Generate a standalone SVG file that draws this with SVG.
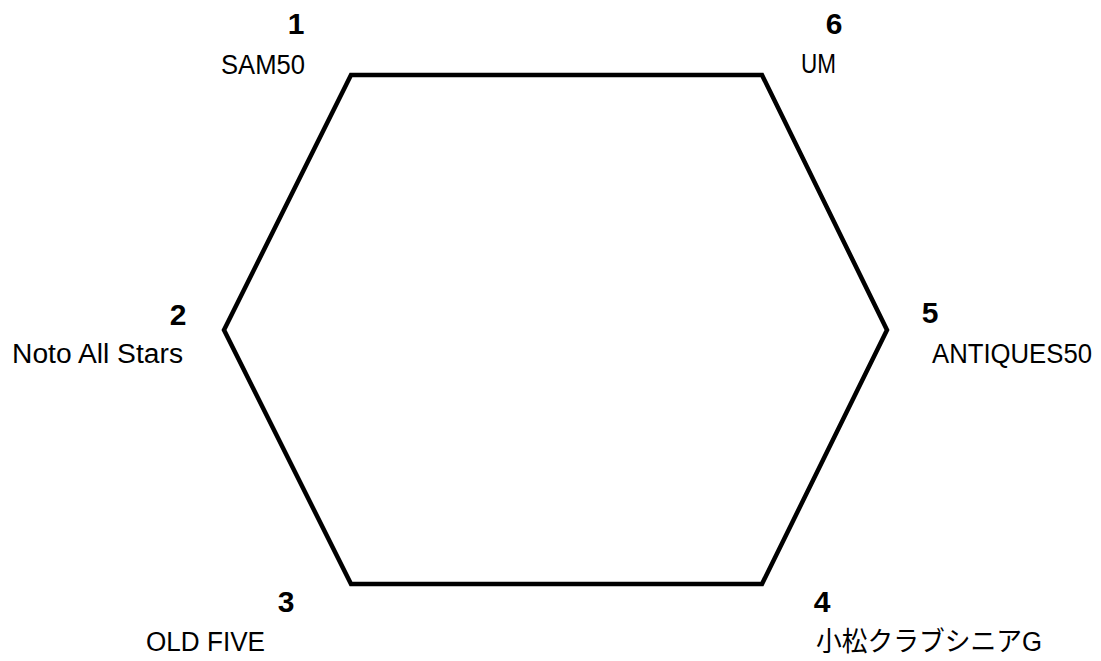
<svg xmlns="http://www.w3.org/2000/svg" width="1101" height="661" viewBox="0 0 1101 661">
<style>
.num{font-family:"Liberation Sans","Noto Sans CJK JP",sans-serif;font-size:30px;font-weight:bold;fill:#000;text-anchor:middle}
.lbl{font-family:"Liberation Sans","Noto Sans CJK JP",sans-serif;font-size:27px;fill:#000}
.edge{fill:none;stroke:#000;stroke-width:4.5;stroke-linejoin:miter}
</style>
<rect width="1101" height="661" fill="#fff"/>
<g id="connectors">
<polygon class="edge" points="351,75 762,75 887,330 762,584 351,584 224,330"/>
</g>
<g id="node1"><text class="num" x="296" y="34">1</text><text class="lbl" x="221" y="74" textLength="84" lengthAdjust="spacingAndGlyphs">SAM50</text></g>
<g id="node2"><text class="num" x="178" y="325">2</text><text class="lbl" x="12" y="363" textLength="171" lengthAdjust="spacingAndGlyphs">Noto All Stars</text></g>
<g id="node3"><text class="num" x="286" y="612">3</text><text class="lbl" x="146" y="651" textLength="119" lengthAdjust="spacingAndGlyphs">OLD FIVE</text></g>
<g id="node4"><text class="num" x="822" y="612">4</text><text class="lbl" x="816" y="651" textLength="226" lengthAdjust="spacingAndGlyphs">小松クラブシニアG</text></g>
<g id="node5"><text class="num" x="930" y="323">5</text><text class="lbl" x="932" y="363" textLength="160" lengthAdjust="spacingAndGlyphs">ANTIQUES50</text></g>
<g id="node6"><text class="num" x="834" y="34">6</text><text class="lbl" x="801" y="73" textLength="35" lengthAdjust="spacingAndGlyphs">UM</text></g>
</svg>
